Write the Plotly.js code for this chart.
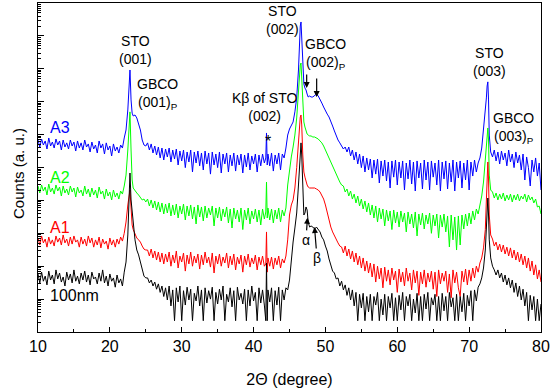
<!DOCTYPE html>
<html><head><meta charset="utf-8">
<script src="https://cdn.plot.ly/plotly-3.0.1.min.js"></script>
<style>html,body{margin:0;padding:0;background:#fff}</style>
</head><body><div id="chart" style="width:550px;height:388px"></div>
<script>
// 2Theta positions (degree)
const twoTheta = [
10,10.25,10.5,10.75,11,11.25,11.5,11.75,12,12.25,12.5,12.75,13,13.25,13.5,13.75,14,14.25,14.5,14.75,15,15.25,15.5,15.75,16,16.25,16.5,16.75,17,17.25,17.5,17.75,18,18.25,18.5,18.75,19,19.25,19.5,19.75,20,20.25,20.5,20.75,21,21.25,21.5,21.75,22,
22.25,22.5,22.65,22.8,22.95,23.1,23.25,23.5,23.75,24,24.25,24.5,24.75,25,
25.25,25.5,25.75,26,26.25,26.5,26.75,27,27.25,27.5,27.75,28,28.25,28.5,28.75,29,29.25,29.5,29.75,30,30.25,30.5,30.75,31,31.25,31.5,31.75,32,32.25,32.5,32.75,33,33.25,33.5,33.75,34,34.25,34.5,34.75,35,35.25,35.5,35.75,36,36.25,36.5,36.75,37,37.25,37.5,37.75,38,38.25,38.5,38.75,39,39.25,39.5,39.75,40,40.25,40.5,40.75,41,41.25,41.5,
41.7,41.8,41.9,42,
42.25,42.5,42.75,43,43.25,43.5,43.75,44,44.25,44.5,44.75,45,45.25,45.5,45.75,46,46.25,
46.4,46.5,46.6,46.7,46.85,47,47.15,47.3,47.45,47.6,47.8,48,
48.25,48.5,48.75,49,49.25,49.5,49.75,50,50.25,50.5,50.75,51,51.25,51.5,51.75,52,52.25,52.5,52.75,53,53.25,53.5,53.75,54,54.25,54.5,54.75,55,55.25,55.5,55.75,56,56.25,56.5,56.75,57,57.25,57.5,57.75,58,58.25,58.5,58.75,59,59.25,59.5,59.75,60,60.25,60.5,60.75,61,61.25,61.5,61.75,62,62.25,62.5,62.75,63,63.25,63.5,63.75,64,64.25,64.5,64.75,65,65.25,65.5,65.75,66,66.25,66.5,66.75,67,67.25,67.5,67.75,68,68.25,68.5,68.75,69,69.25,69.5,69.75,70,70.25,70.5,70.75,71,71.25,71.5,71.75,72,72.25,
72.4,72.5,72.6,72.7,72.8,73,
73.25,73.5,73.75,74,74.25,74.5,74.75,75,75.25,75.5,75.75,76,76.25,76.5,76.75,77,77.25,77.5,77.75,78,78.25,78.5,78.75,79,79.25,79.5,79.75,80
];

// Counts (a. u.)
const counts100nm = [
58,31,66,35,50,27,71,38,54,29,77,41,62,33,47,25,66,38,58,31,77,35,50,29,62,38,71,33,54,27,66,41,47,29,62,35,77,31,50,25,58,35,44,23,54,31,41,25,66,
134,890,7300,68000,10300,4140,2200,630,310,220,134,77,50,44,
44,31,38,25,33,20,29,16,25,12,22,9.4,25,6.2,19,2.2,22,8.2,25,2.2,18,6.6,23,9.4,20,2.2,15,8.8,25,6.2,19,2.2,22,7.6,18,10,23,2.2,16,7.1,20,9.4,25,2.2,14,8.2,22,5.8,18,2.2,23,9.4,15,7.1,20,2.2,19,6.2,25,8.8,16,2.2,22,7.6,19,6.6,
2.2,125,2.2,19,
8.2,22,2.2,18,6.6,23,2.2,19,9.4,22,19,38,178,544,1450,4140,29400,
119000,340000,560000,240000,14600,3600,4140,6310,5110,2200,1550,1670,
1550,1350,1550,1300,1100,770,630,410,290,166,117,71,62,41,44,25,35,19,27,13,22,9.4,19,6.2,16,2.2,14,
5.4,15,2.2,12,4.1,14,2.2,12,6.6,16,2.2,10,3.3,14,2.2,12,5.4,15,2.2,11,2.2,13,4.7,16,2.2,12,6.2,14,2.2,10,3.8,15,2.2,12,2.2,14,5.0,16,2.2,11,6.6,14,2.2,12,2.2,15,4.4,12,2.2,16,5.8,11,2.2,14,2.2,12,4.1,15,2.2,13,6.2,18,2.2,19,8.8,23,29,44,88,310,
1450,5110,11800,3600,630,178,
100,77,54,77,44,62,33,54,27,44,22,38,16,31,12,25,9.4,20,6.2,16,2.2,13,4.7,12,2.2,10,2.2,7.1
];

const countsA1 = [
720,440,830,510,670,380,770,470,630,410,830,540,720,440,890,510,670,410,770,470,830,540,630,380,770,470,670,410,830,510,720,380,630,440,770,360,670,470,580,330,720,440,630,380,670,470,770,580,1000,
2200,7260,14600,20700,5880,1790,1300,890,720,630,540,410,330,310,
310,204,333,178,290,154,270,134,252,117,235,134,270,100,219,125,290,88,204,134,252,71,219,117,270,100,204,125,235,82,219,110,270,125,190,94,252,62,204,117,235,100,190,125,252,88,204,110,235,77,190,117,219,66,204,110,235,94,178,117,219,77,190,110,204,100,
117,1100,66,178,
100,190,82,178,110,204,88,166,125,204,630,3600,7260,10300,23800,99000,685000,
1960000,3430000,3950000,1960000,240000,73000,51000,36200,29400,25500,23800,23800,
23800,23800,22200,20700,18000,14600,11000,7260,4140,2540,1550,1100,830,630,510,410,
383,252,411,204,333,166,290,134,252,110,204,88,178,71,144,62,125,47,117,33,100,41,88,22,94,35,77,27,88,38,71,16,82,33,66,25,88,35,62,19,77,31,71,13,66,29,77,23,62,33,71,20,66,12,77,29,62,35,71,16,58,11,77,31,66,22,12,71,33,82,27,77,35,88,44,100,66,125,178,360,1300,
10300,59000,147000,41700,3600,890,
670,410,540,310,470,270,440,235,380,204,360,178,310,154,270,134,235,110,204,88,178,71,144,54,110,41,77,33
];

const countsA2 = [
27400,16800,29400,19300,25500,14600,31500,18000,23800,15600,29400,19300,25500,13600,27400,16800,22200,14600,27400,18000,23800,12700,25500,16800,20700,13600,27400,15600,22200,12700,23800,14600,20700,11800,25500,15600,19300,11000,22200,13600,18000,10300,20700,12700,16800,11000,19300,15600,27400,
59000,340000,1960000,4900000,340000,41700,23800,19300,16800,14600,12700,10300,11000,8960,
11000,6760,10300,5880,9600,5110,8960,4450,8350,3860,7780,4140,8350,3360,7260,3600,7780,2920,6760,3860,7780,2540,6760,3360,7260,2720,6310,1920,7260,3130,6310,2370,6760,2920,5880,3600,6760,1670,5880,2920,6310,2370,5480,3130,6310,2060,5480,1450,5880,2720,5110,2200,5880,1300,5110,2540,5880,1920,4770,2720,5480,2200,5110,1790,5480,2720,
4450,36200,2920,5880,
2540,5480,2060,5110,2720,5880,2200,5110,3360,5880,29400,84000,209000,420000,970000,3200000,32000000,
8.0e7,1.3e8,1.5e8,6.5e7,7.9e6,2.42e6,1.7e6,1.29e6,1.04e6,970000,910000,910000,
845000,845000,790000,735000,640000,560000,450000,340000,240000,181000,137000,104000,78000,59000,48000,36200,29400,
27400,18000,22200,13600,19300,11000,15600,8350,13600,6760,11000,5480,9600,4450,8350,3600,7260,2920,6760,2200,5880,2720,5480,1670,5110,2370,4770,1300,5110,2060,4450,1550,4770,2200,4140,1100,4450,1920,3860,1450,4450,830,3860,1790,4140,1350,3600,1920,4140,1000,3600,1670,3860,720,3600,1550,3860,1100,3360,383,3600,630,3130,310,3360,441,3600,1350,3860,1670,4140,1920,4770,2540,5480,3860,7260,13600,36200,169000,
685000,1380000,1590000,685000,59000,20700,
18000,11800,16800,10300,15600,11000,16800,9600,14600,10300,15600,8960,14600,10300,15600,9600,13600,11000,15600,8960,14600,10300,12700,8350,11000,6310,6760,3860
];

const countsA3 = [
6.85e5,4.2e5,7.35e5,4.83e5,6.4e5,3.65e5,7.9e5,4.5e5,5.95e5,3.91e5,7.35e5,4.83e5,6.4e5,3.4e5,6.85e5,4.2e5,5.6e5,3.65e5,6.85e5,4.5e5,5.95e5,3.17e5,6.4e5,3.91e5,5.6e5,3.4e5,6.85e5,4.2e5,5.2e5,2.96e5,5.95e5,3.65e5,4.83e5,2.76e5,6.4e5,3.91e5,5.2e5,2.57e5,5.6e5,3.4e5,4.5e5,2.24e5,5.2e5,3.17e5,4.2e5,2.76e5,4.83e5,3.91e5,7.9e5,
1.38e6,5.6e6,3.2e7,9.2e7,1.13e7,4.5e6,3.68e6,3.95e6,3.2e6,2.25e6,1.38e6,6.85e5,4.83e5,4.5e5,
5.6e5,3.4e5,5.2e5,2.76e5,4.5e5,2.4e5,4.2e5,1.95e5,3.91e5,1.69e5,3.65e5,2.09e5,3.91e5,1.47e5,3.4e5,1.81e5,3.65e5,1.19e5,3.17e5,1.58e5,3.4e5,9.9e4,2.96e5,1.47e5,3.4e5,7.3e4,2.96e5,1.37e5,3.17e5,1.12e5,2.76e5,8.4e4,3.17e5,1.28e5,2.76e5,6.3e4,2.96e5,1.19e5,2.57e5,9.9e4,2.96e5,6.8e4,2.57e5,1.28e5,2.76e5,7.3e4,2.4e5,1.12e5,2.76e5,7.8e4,2.4e5,1.19e5,2.57e5,6.8e4,2.4e5,1.04e5,2.76e5,8.4e4,2.24e5,1.28e5,2.57e5,7.3e4,2.4e5,1.12e5,2.57e5,1.37e5,
1.95e5,1.12e6,1.19e5,2.57e5,
1.12e5,2.76e5,7.8e4,2.4e5,1.28e5,2.76e5,8.4e4,2.57e5,1.95e5,3.91e5,9.7e5,1.48e6,1.96e6,2.42e6,4.9e6,1.3e7,9.2e7,
7.5e8,2.0e9,2.65e9,7.5e8,9.2e7,3.45e7,2.61e7,2.27e7,1.71e7,1.39e7,1.49e7,1.39e7,
1.39e7,1.6e7,1.71e7,1.49e7,1.21e7,9.1e6,6.9e6,5.2e6,4.2e6,3.43e6,2.59e6,1.82e6,1.29e6,9.1e5,6.85e5,5.6e5,4.5e5,3.65e5,4.2e5,
2.96e5,4.2e5,2.24e5,3.4e5,1.69e5,2.96e5,1.28e5,2.57e5,9.9e4,2.24e5,7.3e4,1.95e5,8.4e4,1.81e5,4.8e4,1.69e5,6.3e4,1.81e5,3.38e4,1.58e5,5.5e4,1.69e5,3.89e4,1.47e5,2.38e4,1.58e5,5.1e4,1.69e5,2.94e4,1.47e5,4.8e4,1.58e5,2.07e4,1.37e5,4.5e4,1.69e5,3.15e4,1.47e5,1.93e4,1.58e5,4.8e4,1.37e5,2.22e4,1.69e5,4.17e4,1.47e5,2.07e4,1.58e5,5.1e4,1.37e5,2.94e4,1.69e5,1.93e4,1.47e5,4.5e4,1.58e5,2.22e4,1.37e5,3.62e4,1.69e5,1.93e4,1.47e5,4.8e4,1.58e5,2.38e4,1.37e5,4.17e4,1.69e5,2.07e4,1.47e5,5.5e4,1.69e5,7.3e4,1.37e5,1.95e5,3.91e5,1.38e6,4.9e6,
1.3e7,3.0e7,4.0e7,1.13e7,9.7e5,2.96e5,
2.09e5,3.4e5,1.58e5,2.96e5,1.28e5,3.17e5,1.69e5,2.76e5,1.12e5,3.4e5,1.47e5,2.57e5,9.9e4,2.96e5,1.37e5,2.4e5,8.4e4,2.57e5,4.17e4,2.09e5,9.9e4,2.74e4,1.69e5,7.3e4,1.95e5,5.5e4,1.37e5,2.07e4
];

const sampleLabels = ['A3', 'A2', 'A1', '100nm'];
const sampleColors = ['#0000ff', '#00ff00', '#ff0000', '#000000'];
const sampleCounts = [countsA3, countsA2, countsA1, counts100nm];

sampleCounts.forEach((c, i) => {
  if (c.length !== twoTheta.length) throw new Error(sampleLabels[i] + ' has ' + c.length + ' values, twoTheta has ' + twoTheta.length);
});

const FONT = 'Liberation Sans, Arial, Helvetica, sans-serif';

const data = sampleLabels.map((name, i) => ({
  x: twoTheta, y: sampleCounts[i], type: 'scatter', mode: 'lines', name: name,
  line: {color: sampleColors[i], width: 1}, hoverinfo: 'skip'
}));

const txt = (x, y, text, extra) => Object.assign({
  x: x, y: y, xref: 'x', yref: 'paper', text: text, showarrow: false,
  font: {family: FONT, size: 14, color: '#000'}, align: 'center',
  xanchor: 'center', yanchor: 'middle'
}, extra || {});
const arrowOpts = {showarrow: true, arrowhead: 2, arrowsize: 1, arrowwidth: 1.2, arrowcolor: '#000', standoff: 0, startstandoff: 0};

const labelY = [0.622, 0.470, 0.318, 0.112];
const annotations = [
  txt(23.5, 0.856, 'STO<br>(001)'),
  txt(26.56, 0.723, 'GBCO<br>(001)<sub>P</sub>'),
  txt(41.52, 0.684, 'Kβ of STO<br>(002)'),
  txt(41.96, 0.578, '*', {font: {family: FONT, size: 16, color: '#000'}}),
  txt(44.02, 0.947, 'STO<br>(002)'),
  txt(49.94, 0.846, 'GBCO<br>(002)<sub>P</sub>'),
  txt(72.9, 0.821, 'STO<br>(003)'),
  txt(76.17, 0.62, 'GBCO<br>(003)<sub>P</sub>'),
  txt(47.5, 0.347, 'α', Object.assign({ax: -1.5, ay: 22}, arrowOpts)),
  txt(48.48, 0.319, 'β', Object.assign({ax: 2.5, ay: 31}, arrowOpts)),
  txt(47.39, 0.742, '', Object.assign({ax: 0, ay: -15}, arrowOpts)),
  txt(48.78, 0.714, '', Object.assign({ax: 0, ay: -20}, arrowOpts)),
  {text: 'Counts (a. u.)', xref: 'paper', yref: 'paper', x: -0.04, y: 0.483, textangle: -90,
   showarrow: false, xanchor: 'center', yanchor: 'middle', font: {family: FONT, size: 15, color: '#000'}}
].concat(sampleLabels.map((name, i) => txt(11.39, labelY[i], name, {
  xanchor: 'left', font: {family: FONT, size: 16, color: sampleColors[i]}
})));

const minorLogTicks = [];
for (let k = 0; k < 10; k++) for (let m = 2; m <= 9; m++) minorLogTicks.push(m * Math.pow(10, k));

const layout = {
  width: 550, height: 388,
  margin: {l: 38, r: 9, t: 3, b: 56},
  paper_bgcolor: '#fff', plot_bgcolor: '#fff',
  showlegend: false,
  font: {family: FONT, color: '#000'},
  xaxis: {
    range: [10, 80], tick0: 10, dtick: 10, ticks: 'inside', ticklen: 5, tickwidth: 1, tickcolor: '#000',
    minor: {dtick: 5, ticks: 'inside', ticklen: 3, tickwidth: 1, tickcolor: '#000'},
    showline: true, mirror: true, linecolor: '#000', linewidth: 1.2,
    showgrid: false, zeroline: false,
    tickfont: {family: FONT, size: 16, color: '#000'},
    title: {text: '2Θ (degree)', font: {family: FONT, size: 16, color: '#000'}}
  },
  yaxis: {
    type: 'log', range: [0, 10], dtick: 1, ticks: 'inside', ticklen: 6, tickwidth: 1, tickcolor: '#000',
    minor: {tickmode: 'array', tickvals: minorLogTicks, ticks: 'inside', ticklen: 3, tickwidth: 1, tickcolor: '#000'},
    showticklabels: false,
    showline: true, mirror: true, linecolor: '#000', linewidth: 1.2,
    showgrid: false, zeroline: false
  },
  annotations: annotations
};

Plotly.newPlot('chart', data, layout, {staticPlot: true, displayModeBar: false});
</script>
</body></html>
